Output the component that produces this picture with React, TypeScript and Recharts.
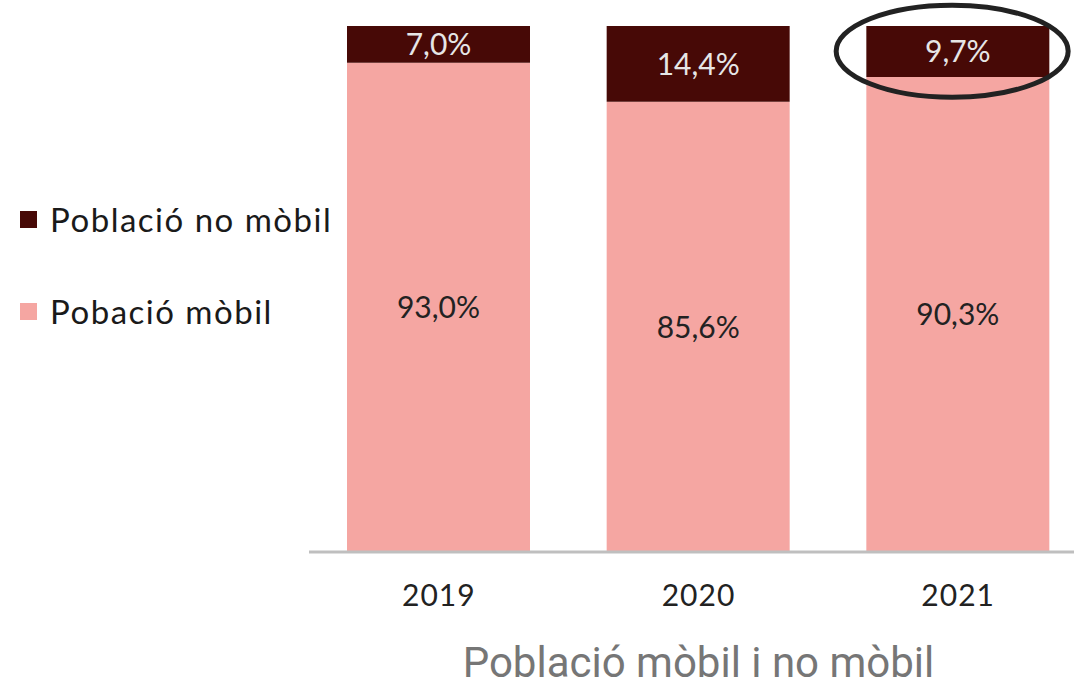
import { BarChart, Bar, XAxis, YAxis, LabelList, Label, ReferenceDot } from 'recharts'

const years = ['2019', '2020', '2021']
const mobil = [93.0, 85.6, 90.3]
const noMobil = [7.0, 14.4, 9.7]

const DARK = '#470906'
const PINK = '#f5a6a2'

const data = years.map((y, i) => ({ year: y, mobil: mobil[i], noMobil: noMobil[i] }))

const legendItems = [
  { label: 'Població no mòbil', color: DARK },
  { label: 'Pobació mòbil', color: PINK },
]

const fmt = (v: number) => v.toFixed(1).replace('.', ',') + '%'

const Ellipse = (props: any) => (
  <ellipse cx={props.cx - 6} cy={props.cy} rx={116} ry={46} fill="none" stroke="#222" strokeWidth={5} />
)

export default function App() {
  return (
    <div style={{ position: 'absolute', left: 0, top: 0, width: 1074, height: 686, overflow: 'hidden', background: '#fff', fontFamily: 'Lato' }}>
      <BarChart width={1088} height={686} data={data} margin={{ top: 26, right: 0, bottom: 0, left: 309 }}>
        <YAxis hide domain={[0, 100]} />
        <XAxis
          dataKey="year"
          height={134}
          axisLine={{ stroke: '#bfbfbf', strokeWidth: 3 }}
          tickLine={false}
          tickSize={0}
          tickMargin={33}
          tick={{ fontSize: 30, fill: '#222', fontFamily: 'Lato', letterSpacing: 1 }}
        >
          <Label value="Població mòbil i no mòbil" position="insideBottom" offset={9} style={{ fontSize: 42, fill: '#767676', fontFamily: 'Roboto' }} />
        </XAxis>
        <Bar dataKey="mobil" stackId="a" fill={PINK} barSize={183} isAnimationActive={false}>
          <LabelList dataKey="mobil" position="center" formatter={fmt} style={{ fontSize: 30, fill: '#222', fontFamily: 'Lato' }} />
        </Bar>
        <Bar dataKey="noMobil" stackId="a" fill={DARK} barSize={183} isAnimationActive={false}>
          <LabelList dataKey="noMobil" position="center" formatter={fmt} style={{ fontSize: 30, fill: '#e6e6e6', fontFamily: 'Lato' }} />
        </Bar>
        <ReferenceDot x="2021" y={95.2} shape={Ellipse} />
      </BarChart>
      <div style={{ position: 'absolute', left: 20, top: 196 }}>
        {legendItems.map(it => (
          <div key={it.label} style={{ display: 'flex', alignItems: 'center', height: 46, marginBottom: 46 }}>
            <span style={{ width: 17, height: 17, background: it.color, marginRight: 13 }} />
            <span style={{ fontSize: 33, color: '#1a1a1a', letterSpacing: 1.5 }}>{it.label}</span>
          </div>
        ))}
      </div>
    </div>
  )
}
